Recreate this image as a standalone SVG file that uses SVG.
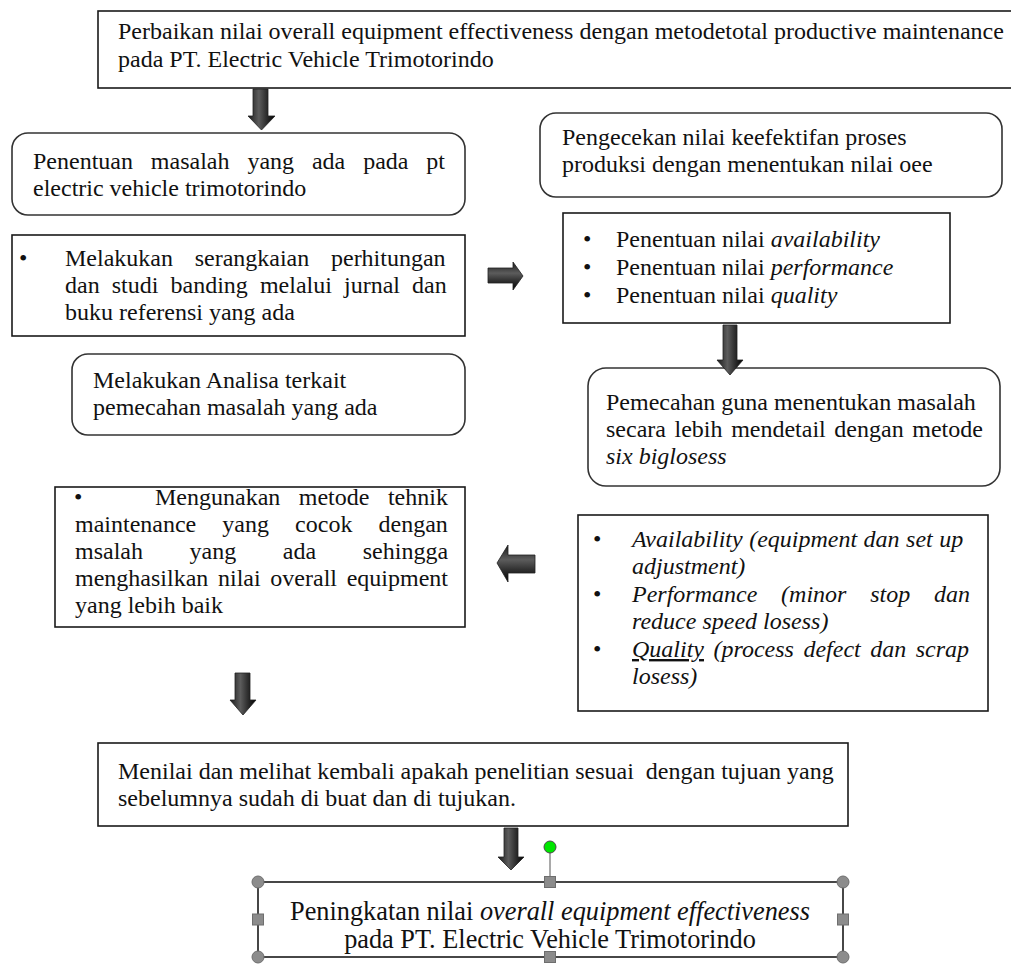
<svg xmlns="http://www.w3.org/2000/svg" width="1011" height="965" viewBox="0 0 1011 965">
<defs>
<style>
text{font-family:"Liberation Serif","Times New Roman",serif;font-size:24px;fill:#111}
.it{font-style:italic}
.big{font-size:26.3px}
.box{fill:#fff;stroke:#1a1a1a;stroke-width:1.6}
.rbox{fill:#fff;stroke:#333;stroke-width:1.6}
.hc{fill:#8c8c8c;stroke:#6e6e6e;stroke-width:1}
.arr{stroke:#222;stroke-width:0.8}
</style>
<linearGradient id="gv" x1="0" y1="0" x2="1" y2="0">
<stop offset="0" stop-color="#1a1a1a"/><stop offset="0.4" stop-color="#5c5c5c"/><stop offset="0.65" stop-color="#333"/><stop offset="1" stop-color="#000"/>
</linearGradient>
<linearGradient id="gh" x1="0" y1="0" x2="0" y2="1">
<stop offset="0" stop-color="#1a1a1a"/><stop offset="0.4" stop-color="#5c5c5c"/><stop offset="0.65" stop-color="#333"/><stop offset="1" stop-color="#000"/>
</linearGradient>
</defs>
<rect width="1011" height="965" fill="#fff"/>

<g id="n-title">
<rect class="box" x="98" y="11" width="930" height="77" stroke-width="2"/>
<text x="118" y="39">Perbaikan nilai overall equipment effectiveness dengan metodetotal productive maintenance</text>
<text x="118" y="67">pada PT. Electric Vehicle Trimotorindo</text>
</g>

<g id="n-penentuan">
<rect class="rbox" x="12" y="133" width="453" height="82" rx="16"/>
<text x="33" y="169" style="word-spacing:11.9px">Penentuan masalah yang ada pada pt</text>
<text x="33" y="196">electric vehicle trimotorindo</text>
</g>

<g id="n-perhitungan">
<rect class="box" x="12" y="235" width="453" height="101"/>
<text x="19" y="266">•</text>
<text x="65" y="266" style="word-spacing:15.7px">Melakukan serangkaian perhitungan</text>
<text x="65" y="293" style="word-spacing:6.1px">dan studi banding melalui jurnal dan</text>
<text x="65" y="320">buku referensi yang ada</text>
</g>

<g id="n-analisa">
<rect class="rbox" x="72" y="354" width="393" height="81" rx="16"/>
<text x="93" y="388">Melakukan Analisa terkait</text>
<text x="93" y="415">pemecahan masalah yang ada</text>
</g>

<g id="n-pengecekan">
<rect class="rbox" x="540" y="113" width="462" height="84" rx="16"/>
<text x="562" y="145">Pengecekan nilai keefektifan proses</text>
<text x="562" y="172">produksi dengan menentukan nilai oee</text>
</g>

<g id="n-nilai">
<rect class="box" x="563" y="213" width="387" height="110"/>
<text x="583" y="247">•</text>
<text x="616" y="247">Penentuan nilai <tspan class="it">availability</tspan></text>
<text x="583" y="275">•</text>
<text x="616" y="275">Penentuan nilai <tspan class="it">performance</tspan></text>
<text x="583" y="303">•</text>
<text x="616" y="303">Penentuan nilai <tspan class="it">quality</tspan></text>
</g>

<g id="n-pemecahan">
<rect class="rbox" x="588" y="368" width="412" height="118" rx="18"/>
<text x="606" y="410">Pemecahan guna menentukan masalah</text>
<text x="606" y="437" style="word-spacing:2.6px">secara lebih mendetail dengan metode</text>
<text x="606" y="464" class="it">six biglosess</text>
</g>

<g id="n-mengunakan">
<rect class="box" x="55" y="487" width="410" height="140"/>
<text x="74" y="505">•</text>
<text x="155" y="505" style="word-spacing:12.5px">Mengunakan metode tehnik</text>
<text x="75" y="532" style="word-spacing:20.1px">maintenance yang cocok dengan</text>
<text x="75" y="559" style="word-spacing:40.6px">msalah yang ada sehingga</text>
<text x="75" y="586" style="word-spacing:3.7px">menghasilkan nilai overall equipment</text>
<text x="75" y="613">yang lebih baik</text>
</g>

<g id="n-sixbig">
<rect class="box" x="578" y="515" width="410" height="196"/>
<text x="593" y="547">•</text>
<text x="632" y="547" class="it" style="word-spacing:0.5px">Availability (equipment dan set up</text>
<text x="632" y="574" class="it">adjustment)</text>
<text x="593" y="602">•</text>
<text x="632" y="602" class="it" style="word-spacing:17.8px">Performance (minor stop dan</text>
<text x="632" y="629" class="it">reduce speed losess)</text>
<text x="593" y="657">•</text>
<text x="632" y="657" class="it" style="word-spacing:3.5px"><tspan text-decoration="underline">Quality</tspan> (process defect dan scrap</text>
<text x="632" y="684" class="it">losess)</text>
</g>

<g id="n-menilai">
<rect class="box" x="98" y="743" width="750" height="83"/>
<text x="118" y="779">Menilai dan melihat kembali apakah penelitian sesuai&#160; dengan tujuan yang</text>
<text x="118" y="806">sebelumnya sudah di buat dan di tujukan.</text>
</g>

<g id="n-peningkatan">
<line x1="550" y1="853" x2="550" y2="882" stroke="#8c8c8c" stroke-width="1.5"/>
<rect class="box" x="258" y="882" width="585" height="75" stroke="#000"/>
<text class="big" x="550" y="920" text-anchor="middle">Peningkatan nilai <tspan class="it">overall equipment effectiveness</tspan></text>
<text class="big" x="550" y="948" text-anchor="middle">pada PT. Electric Vehicle Trimotorindo</text>
<circle cx="550" cy="847" r="6" fill="#00e600" stroke="#4a4a4a" stroke-width="1"/>
<circle class="hc" cx="258" cy="882" r="6"/>
<circle class="hc" cx="843" cy="882" r="6"/>
<circle class="hc" cx="258" cy="957" r="6"/>
<circle class="hc" cx="843" cy="957" r="6"/>
<rect class="hc" x="544.5" y="876.5" width="11" height="11"/>
<rect class="hc" x="544.5" y="951.5" width="11" height="11"/>
<rect class="hc" x="252.5" y="914" width="11" height="11"/>
<rect class="hc" x="837.5" y="914" width="11" height="11"/>
</g>

<g id="connectors">
<path class="arr" fill="url(#gv)" d="M253,89 H268 V116 H275 L261.5,130 L248,116 H253 Z"/>
<path class="arr" fill="url(#gh)" d="M488,268 H513 V262 L523,276 L513,290 V283 H488 Z"/>
<path class="arr" fill="url(#gv)" d="M723,325 H737 V360 H743 L730,375 L717,360 H723 Z"/>
<path class="arr" fill="url(#gh)" d="M535,555 H508 V545 L497,563 L508,582 V573 H535 Z"/>
<path class="arr" fill="url(#gv)" d="M235,673 H250 V700 H256 L243,715 L230,700 H235 Z"/>
<path class="arr" fill="url(#gv)" d="M504,828 H518 V857 H524 L511,870 L498,857 H504 Z"/>
</g>
</svg>
